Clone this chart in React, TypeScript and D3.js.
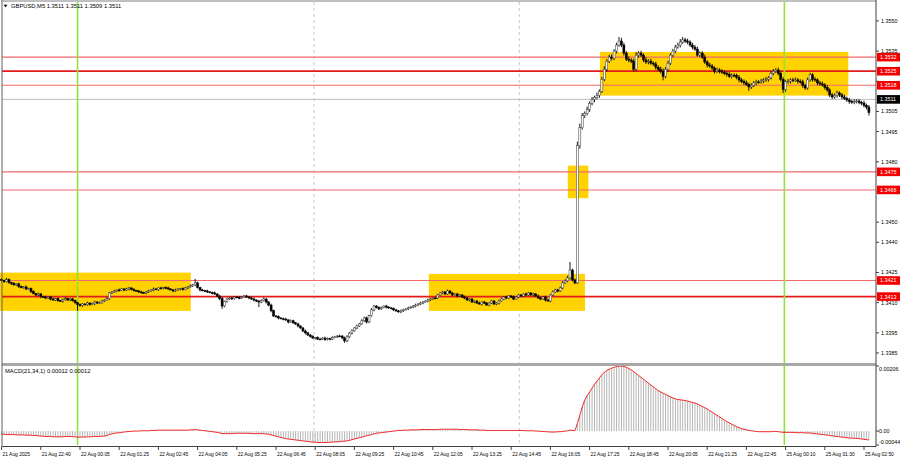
import React from "react";
import * as d3 from "d3";

// Close prices in pips above 1.3400 (one per M5 bar)
const closes: number[] = [
  21.0, 20.5, 21.5, 20.0, 19.5, 18.8, 19.3, 18.0, 17.5, 17.8,
  16.8, 17.0, 15.5, 14.5, 13.8, 14.3, 13.0, 12.8, 12.3, 12.8,
  11.8, 11.3, 12.0, 11.0, 10.8, 11.5, 12.0, 11.3, 11.8, 11.0,
  10.0, 9.0, 8.5, 9.3, 9.0, 9.8, 9.0, 9.5, 10.3, 9.8,
  10.0, 10.8, 11.3, 12.0, 14.8, 15.3, 15.8, 16.3, 16.0, 16.8,
  16.3, 16.8, 17.3, 16.5, 16.0, 15.8, 15.3, 15.0, 14.8, 15.3,
  15.8, 16.3, 16.8, 16.5, 17.3, 17.0, 17.5, 17.3, 16.8, 16.3,
  15.8, 16.3, 16.8, 17.0, 16.5, 17.3, 17.8, 18.3, 18.8, 19.8,
  17.5, 16.3, 16.0, 15.8, 15.3, 15.0, 14.8, 14.3, 13.3, 12.0,
  8.3, 10.5, 11.8, 12.3, 12.0, 12.8, 12.5, 12.3, 12.8, 13.3,
  12.8, 12.3, 11.8, 11.3, 10.8, 10.3, 11.0, 11.8, 10.3, 8.8,
  6.0, 3.4, 3.0, 2.4, 2.0, 1.8, 1.4, 0.4, 1.0, 0.0,
  -0.6, -1.6, -2.6, -4.1, -5.0, -6.1, -6.8, -7.6, -7.3, -8.1,
  -8.1, -7.6, -8.3, -7.8, -8.1, -7.3, -7.0, -6.6, -6.6, -7.5,
  -9.0, -7.0, -5.1, -4.0, -2.6, -1.6, -0.6, 1.0, 2.4, 0.4,
  3.5, 6.4, 8.3, 7.5, 6.9, 7.5, 8.3, 7.8, 7.4, 7.0,
  6.4, 5.9, 5.4, 5.9, 6.4, 6.9, 7.4, 7.8, 8.3, 8.8,
  9.3, 9.8, 10.3, 10.8, 11.3, 11.8, 12.3, 12.3, 13.8, 14.8,
  15.3, 14.3, 15.8, 14.8, 13.8, 14.3, 13.3, 13.8, 12.8, 12.3,
  11.3, 11.8, 10.3, 10.8, 9.8, 9.3, 10.3, 9.8, 8.8, 9.8,
  10.8, 9.3, 9.8, 10.8, 11.8, 12.8, 12.3, 13.3, 12.8, 11.8,
  12.8, 13.8, 13.3, 14.3, 13.8, 14.8, 13.8, 14.3, 13.3, 12.3,
  11.8, 12.8, 11.3, 10.8, 13.8, 15.3, 16.3, 15.8, 17.3, 19.8,
  20.8, 22.3, 26.2, 21.3, 19.8, 88.0, 97.0, 103.0, 104.0, 106.0,
  109.0, 111.0, 112.0, 113.0, 115.0, 121.0, 126.0, 130.0, 132.0, 131.5,
  135.0, 138.0, 140.0, 138.0, 134.0, 131.0, 130.5, 130.0, 126.0, 133.0,
  134.0, 133.0, 130.6, 129.6, 130.0, 129.0, 128.6, 127.0, 126.0, 125.0,
  122.5, 126.0, 129.0, 133.0, 135.0, 137.0, 138.0, 139.5, 140.6, 140.0,
  139.5, 138.0, 137.0, 136.0, 133.0, 134.0, 132.0, 129.6, 128.1, 127.6,
  126.6, 125.0, 125.6, 125.0, 124.5, 124.0, 123.5, 122.5, 123.0, 123.0,
  122.0, 120.7, 120.0, 119.2, 118.5, 117.2, 118.0, 119.2, 119.7, 119.7,
  120.2, 120.7, 121.0, 121.7, 124.0, 125.0, 125.6, 124.0, 121.0, 116.0,
  119.7, 120.0, 120.7, 120.5, 120.7, 120.0, 119.7, 118.0, 116.7, 120.7,
  123.2, 121.0, 120.7, 119.2, 118.7, 118.2, 117.0, 115.7, 113.2, 112.2,
  113.0, 114.2, 113.2, 112.2, 111.5, 110.7, 110.0, 109.7, 110.0, 110.2,
  109.5, 109.2, 108.0, 107.2, 104.5,
];
const firstOpen = 21.5;

// Upper / lower wick lengths in tenths of a pip
const upWick: number[] = [
  6, 4, 8, 5, 3, 7, 4, 6, 5, 3,
  8, 4, 5, 6, 3, 7, 5, 4, 6, 3,
  5, 7, 4, 6, 3, 5, 8, 4, 5, 6,
  4, 3, 6, 5, 4, 7, 3, 5, 6, 4,
  5, 6, 4, 8, 5, 4, 6, 3, 7, 5,
  4, 6, 5, 3, 7, 4, 5, 6, 4, 5,
  6, 4, 7, 5, 3, 6, 4, 5, 7, 4,
  5, 6, 4, 3, 6, 5, 4, 7, 5, 20,
  6, 4, 5, 3, 6, 4, 5, 7, 4, 6,
  8, 5, 6, 4, 7, 5, 3, 6, 5, 4,
  6, 4, 5, 7, 3, 5, 6, 8, 4, 5,
  7, 5, 4, 6, 3, 5, 7, 4, 6, 5,
  4, 6, 3, 5, 7, 4, 5, 6, 3, 5,
  6, 4, 7, 5, 3, 6, 5, 4, 7, 5,
  6, 8, 5, 7, 4, 6, 5, 8, 6, 7,
  5, 9, 6, 4, 7, 5, 3, 6, 5, 4,
  6, 5, 4, 7, 5, 3, 6, 4, 5, 7,
  4, 6, 5, 3, 7, 5, 4, 6, 5, 4,
  6, 5, 7, 4, 5, 3, 6, 5, 4, 7,
  5, 4, 6, 3, 5, 7, 4, 6, 5, 4,
  6, 5, 3, 7, 4, 5, 6, 4, 5, 7,
  4, 6, 5, 3, 7, 5, 4, 6, 5, 8,
  5, 4, 6, 7, 5, 8, 6, 5, 7, 9,
  8, 10, 40, 7, 6, 20, 20, 12, 10, 15,
  10, 12, 8, 14, 10, 12, 15, 10, 12, 14,
  10, 12, 20, 16, 12, 10, 14, 10, 12, 15,
  10, 12, 8, 14, 10, 12, 9, 11, 10, 12,
  14, 10, 12, 9, 11, 10, 12, 15, 14, 10,
  12, 9, 11, 10, 12, 8, 10, 12, 9, 11,
  10, 8, 12, 9, 11, 10, 8, 12, 9, 10,
  8, 11, 9, 10, 12, 8, 10, 9, 11, 8,
  10, 9, 12, 8, 10, 11, 9, 12, 8, 10,
  9, 11, 8, 10, 12, 9, 10, 11, 8, 12,
  10, 9, 11, 8, 10, 12, 9, 11, 8, 10,
  9, 11, 8, 10, 12, 9, 10, 8, 11, 9,
  10, 8, 11, 9, 10,
];
const downWick: number[] = [
  5, 7, 4, 6, 8, 3, 5, 7, 4, 6,
  5, 4, 7, 3, 6, 5, 8, 4, 6, 5,
  7, 4, 5, 6, 3, 8, 5, 4, 6, 5,
  6, 30, 5, 7, 4, 6, 5, 3, 7, 5,
  4, 6, 5, 3, 7, 5, 4, 6, 5, 3,
  6, 5, 7, 4, 5, 3, 6, 5, 4, 7,
  5, 4, 6, 3, 7, 5, 4, 6, 5, 3,
  6, 5, 4, 7, 5, 3, 6, 4, 5, 6,
  5, 7, 4, 6, 5, 3, 7, 5, 6, 8,
  14, 6, 5, 4, 7, 5, 3, 6, 5, 4,
  5, 6, 4, 7, 5, 25, 6, 4, 7, 6,
  8, 6, 5, 7, 4, 6, 5, 8, 4, 6,
  5, 7, 4, 6, 8, 5, 6, 4, 7, 5,
  6, 4, 7, 5, 6, 5, 4, 6, 5, 7,
  10, 6, 5, 7, 4, 6, 5, 4, 6, 8,
  6, 5, 7, 4, 6, 5, 3, 7, 5, 4,
  6, 5, 4, 7, 5, 3, 6, 4, 5, 6,
  5, 4, 6, 3, 7, 5, 4, 6, 5, 4,
  6, 5, 4, 7, 5, 3, 6, 5, 4, 6,
  5, 7, 4, 6, 5, 3, 7, 5, 4, 6,
  5, 4, 6, 7, 3, 5, 6, 4, 5, 6,
  4, 6, 5, 3, 7, 5, 4, 6, 5, 4,
  6, 5, 7, 4, 6, 5, 4, 7, 5, 6,
  5, 6, 8, 7, 6, 5, 15, 10, 12, 10,
  12, 10, 14, 10, 12, 8, 10, 12, 9, 11,
  10, 12, 8, 10, 12, 9, 11, 10, 12, 10,
  12, 9, 11, 10, 12, 8, 10, 12, 9, 11,
  20, 10, 12, 9, 11, 10, 8, 12, 9, 10,
  11, 9, 12, 10, 8, 11, 9, 10, 12, 9,
  10, 12, 8, 11, 9, 10, 12, 8, 11, 9,
  10, 12, 9, 11, 8, 20, 10, 9, 12, 10,
  9, 11, 10, 12, 8, 10, 9, 11, 10, 18,
  12, 9, 11, 10, 8, 11, 9, 12, 10, 9,
  10, 12, 9, 11, 10, 8, 12, 9, 11, 10,
  9, 12, 10, 11, 8, 10, 12, 9, 11, 10,
  9, 11, 10, 12, 15,
];

// MACD(21,34,1) histogram in units of 0.00001
const macdHist: number[] = [
  -10, -10, -11, -11, -11, -11, -12, -12, -12, -12,
  -13, -13, -13, -14, -14, -15, -16, -16, -17, -17,
  -17, -18, -18, -18, -18, -18, -17, -17, -17, -18,
  -18, -19, -19, -19, -19, -18, -18, -18, -17, -17,
  -17, -16, -16, -14, -11, -9, -7, -6, -5, -4,
  -3, -2, -1, -1, 0, 0, 0, 1, 1, 1,
  1, 2, 2, 2, 3, 3, 3, 3, 3, 3,
  3, 3, 3, 3, 3, 3, 3, 4, 4, 5,
  4, 3, 2, 1, 0, -1, -2, -3, -4, -6,
  -8, -8, -8, -8, -8, -7, -7, -7, -7, -7,
  -7, -7, -8, -8, -8, -8, -8, -8, -9, -10,
  -12, -14, -16, -18, -20, -22, -24, -25, -26, -27,
  -28, -29, -30, -31, -32, -33, -34, -35, -35, -36,
  -36, -36, -36, -36, -35, -35, -34, -34, -33, -32,
  -32, -31, -29, -27, -25, -23, -21, -19, -17, -15,
  -13, -11, -9, -7, -6, -5, -4, -3, -2, -1,
  0, 1, 2, 2, 3, 3, 3, 4, 4, 4,
  4, 5, 5, 5, 5, 5, 5, 5, 5, 6,
  6, 6, 6, 6, 6, 6, 6, 5, 5, 5,
  5, 4, 4, 4, 4, 3, 3, 3, 2, 2,
  2, 2, 2, 2, 2, 2, 2, 2, 2, 2,
  2, 2, 2, 2, 1, 1, 1, 1, 0, 0,
  -1, -1, -2, -2, -3, -3, -3, -2, -2, -1,
  0, 1, 3, 2, 1, 24, 50, 76, 98, 112,
  124, 136, 148, 158, 168, 178, 186, 192, 196, 199,
  202, 204, 206, 206, 204, 202, 198, 194, 188, 182,
  176, 170, 164, 158, 152, 146, 140, 134, 128, 124,
  120, 116, 112, 108, 105, 102, 100, 99, 98, 97,
  95, 93, 91, 89, 86, 82, 78, 74, 70, 65,
  60, 55, 50, 45, 40, 35, 30, 26, 22, 18,
  14, 11, 8, 6, 4, 2, 1, 0, -1, -2,
  -2, -2, -2, -2, -2, -1, -1, -2, -3, -4,
  -4, -4, -4, -4, -5, -5, -5, -5, -6, -6,
  -6, -7, -8, -9, -10, -11, -12, -13, -14, -15,
  -16, -17, -18, -19, -20, -21, -22, -22, -23, -23,
  -24, -25, -26, -27, -28,
];

// Price-axis ticks; the ones listed in hiddenTicks sit under a level label
const priceTicks = [1.355, 1.3535, 1.352, 1.3505, 1.3495, 1.348, 1.3465, 1.345, 1.344, 1.3425, 1.341, 1.3395, 1.3385];
const hiddenTicks = [1.352, 1.3465];
const macdTicks = [0.00206, 0, -0.00044];
const macdTickText = ["0.00206", "0.00", "-0.00044"];
const timeLabels = [
  "21 Aug 2025", "21 Aug 22:40", "22 Aug 00:05", "22 Aug 01:25", "22 Aug 02:45", "22 Aug 04:05",
  "22 Aug 05:25", "22 Aug 06:45", "22 Aug 08:05", "22 Aug 09:25", "22 Aug 10:45", "22 Aug 12:05",
  "22 Aug 13:25", "22 Aug 14:45", "22 Aug 16:05", "22 Aug 17:25", "22 Aug 18:45", "22 Aug 20:05",
  "22 Aug 21:25", "22 Aug 22:45", "25 Aug 00:10", "25 Aug 01:30", "25 Aug 02:50",
];
const labelEvery = 16;
const keyLevels = [1.3525, 1.3413];
const minorLevels = [1.3532, 1.3518, 1.3475, 1.3466, 1.3421];
const lastPrice = 1.3511;
// zones: [startBar, endBar, lowPrice, highPrice]
const zones: number[][] = [
  [-1, 77.2, 1.34059, 1.34249],
  [174.4, 238.1, 1.34059, 1.34243],
  [231.1, 239.5, 1.34619, 1.34781],
  [244.2, 345.6, 1.35129, 1.35346],
];
const dayLines = [31, 319.5];
const sessionLines = [127.5, 211.3];

const FONT = "'Liberation Sans', Arial, sans-serif";

export default function App() {
  const x = d3.scaleLinear().domain([0, 352]).range([1.6, 864]);
  const y = d3.scaleLinear().domain([1.338, 1.35594]).range([363, 2]);
  const ym = d3.scaleLinear().domain([-0.00044, 0.00206]).range([445, 366]);
  const px = (v: number) => 1.34 + v / 10000;

  const candles = closes.map((c, i) => {
    const o = i === 0 ? firstOpen : closes[i - 1];
    return {
      i,
      o,
      c,
      h: Math.max(o, c) + upWick[i] / 10,
      l: Math.min(o, c) - downWick[i] / 10,
    };
  });

  const macdLine = d3
    .line<number>()
    .x((_, i) => x(i))
    .y((d) => ym(d / 1e5));

  const axisX = 876;
  const fs = 5.4;

  return (
    <svg
      width={900}
      height={460}
      style={{ position: "fixed", left: 0, top: 0, background: "#fff" }}
      fontFamily={FONT}
    >
      <rect x={0} y={0} width={900} height={460} fill="#fff" />
      {/* session dashed lines */}
      {sessionLines.map((b, k) => (
        <line key={"s" + k} x1={x(b)} x2={x(b)} y1={2} y2={445} stroke="#c8c8c8" strokeWidth={1} strokeDasharray="3,3" />
      ))}
      {/* zones */}
      {zones.map((z, k) => (
        <rect
          key={"z" + k}
          x={Math.max(0, x(z[0]))}
          width={x(z[1]) - Math.max(0, x(z[0]))}
          y={y(z[3])}
          height={y(z[2]) - y(z[3])}
          fill="#ffd200"
        />
      ))}
      {/* levels */}
      <line x1={2} x2={axisX} y1={y(lastPrice)} y2={y(lastPrice)} stroke="#bdbdbd" strokeWidth={1} />
      {minorLevels.map((v, k) => (
        <line key={"m" + k} x1={2} x2={axisX} y1={y(v)} y2={y(v)} stroke="#f26a6a" strokeWidth={1.1} />
      ))}
      {keyLevels.map((v, k) => (
        <line key={"k" + k} x1={2} x2={axisX} y1={y(v)} y2={y(v)} stroke="#e41b1b" strokeWidth={1.7} />
      ))}
      {/* day separators */}
      {dayLines.map((b, k) => (
        <line key={"d" + k} x1={x(b)} x2={x(b)} y1={2} y2={445} stroke="#8fe33a" strokeWidth={1.6} />
      ))}
      {/* candles */}
      {candles.map((d) => {
        const cx = x(d.i);
        const top = y(px(Math.max(d.o, d.c)));
        const bot = y(px(Math.min(d.o, d.c)));
        const bull = d.c > d.o;
        return (
          <g key={"c" + d.i}>
            <line x1={cx} x2={cx} y1={y(px(d.h))} y2={y(px(d.l))} stroke="#000" strokeWidth={0.9} />
            <rect
              x={cx - 1}
              width={2}
              y={top}
              height={Math.max(0.8, bot - top)}
              fill={bull ? "#fff" : "#000"}
              stroke={bull ? "#444" : "#000"}
              strokeWidth={0.55}
            />
          </g>
        );
      })}

      {/* MACD pane */}
      {macdHist.map((v, i) => (
        <line key={"h" + i} x1={x(i)} x2={x(i)} y1={ym(0)} y2={ym(v / 1e5)} stroke="#b4b4b4" strokeWidth={1} />
      ))}
      <path d={macdLine(macdHist) || ""} fill="none" stroke="#f01010" strokeWidth={0.9} />
      <text x={5} y={373} fontSize={5.8} fill="#000">MACD(21,34,1) 0.00012 0.00012</text>

      {/* frames */}
      <rect x={2} y={363} width={axisX - 2} height={3} fill="#a8a8a8" />
      <line x1={2} x2={2} y1={0} y2={446.5} stroke="#606060" strokeWidth={1} />
      <line x1={2} x2={axisX} y1={1} y2={1} stroke="#808080" strokeWidth={1} />
      <line x1={axisX} x2={axisX} y1={0} y2={446.5} stroke="#404040" strokeWidth={1} />
      <line x1={2} x2={axisX} y1={446.5} y2={446.5} stroke="#404040" strokeWidth={1} />

      {/* price axis */}
      {priceTicks.map((v, k) => (
        <g key={"p" + k}>
          <line x1={axisX} x2={axisX + 3} y1={y(v)} y2={y(v)} stroke="#404040" />
          {hiddenTicks.indexOf(v) < 0 && (
            <text x={axisX + 5} y={y(v) + fs * 0.36} fontSize={fs} fill="#000">{v.toFixed(4)}</text>
          )}
        </g>
      ))}
      {macdTicks.map((v, k) => (
        <g key={"mt" + k}>
          <line x1={axisX} x2={axisX + 3} y1={ym(v)} y2={ym(v)} stroke="#404040" />
          <text
            x={axisX + 3}
            y={k === 0 ? ym(v) + 5 : k === 2 ? ym(v) - 1 : ym(v) + fs * 0.36}
            fontSize={fs}
            fill="#000"
          >
            {macdTickText[k]}
          </text>
        </g>
      ))}
      {[...minorLevels, ...keyLevels].map((v, k) => (
        <g key={"rl" + k}>
          <rect x={axisX + 1} y={y(v) - 4.3} width={23} height={8.6} fill="#f20000" />
          <text x={axisX + 4} y={y(v) + fs * 0.36} fontSize={fs} fill="#fff">{v.toFixed(4)}</text>
        </g>
      ))}
      <rect x={axisX + 1} y={y(lastPrice) - 4.3} width={23} height={8.6} fill="#000" />
      <text x={axisX + 4} y={y(lastPrice) + fs * 0.36} fontSize={fs} fill="#fff">{lastPrice.toFixed(4)}</text>

      {/* time axis */}
      {timeLabels.map((t, k) => {
        const tx = x(k * labelEvery);
        return (
          <g key={"t" + k}>
            <line x1={tx} x2={tx} y1={446.5} y2={450} stroke="#404040" />
            <text x={tx + 1} y={455.5} fontSize={4.9} fill="#000">{t}</text>
          </g>
        );
      })}

      {/* title */}
      <path d="M3.5,4.8 L7.5,4.8 L5.5,7.3 Z" fill="#000" />
      <text x={11} y={8} fontSize={5.8} fill="#000">GBPUSD,M5  1.3511 1.3511 1.3509 1.3511</text>
    </svg>
  );
}
